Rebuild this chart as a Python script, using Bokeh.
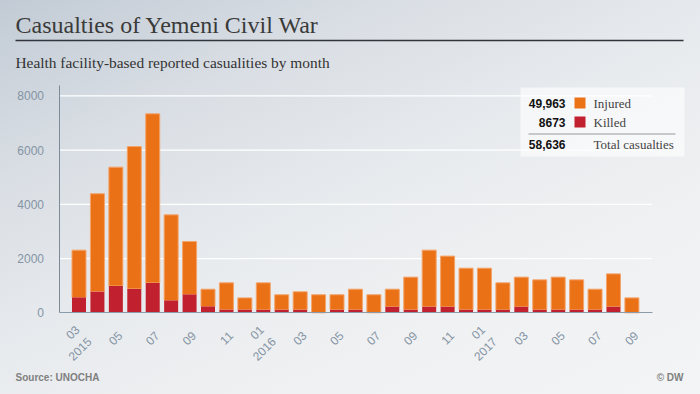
from bokeh.plotting import figure
from bokeh.models import (ColumnDataSource, Range1d, FixedTicker, Label, BoxAnnotation,
                          GlobalInlineStyleSheet)
from bokeh.embed import file_html
from bokeh.resources import INLINE
import math

# ---- data ----
months = ["2015-03", "2015-04", "2015-05", "2015-06", "2015-07", "2015-08", "2015-09",
          "2015-10", "2015-11", "2015-12", "2016-01", "2016-02", "2016-03", "2016-04",
          "2016-05", "2016-06", "2016-07", "2016-08", "2016-09", "2016-10", "2016-11",
          "2016-12", "2017-01", "2017-02", "2017-03", "2017-04", "2017-05", "2017-06",
          "2017-07", "2017-08", "2017-09"]
killed = [560, 780, 990, 880, 1100, 450, 670,
          230, 110, 110, 110, 110, 110, 0,
          110, 110, 0, 220, 110, 220, 220,
          110, 110, 110, 220, 110, 110, 110,
          110, 220, 0]
injured = [1750, 3610, 4380, 5250, 6235, 3160, 1960,
           640, 995, 440, 995, 555, 665, 665,
           555, 760, 665, 650, 1205, 2090, 1870,
           1535, 1535, 995, 1095, 1105, 1205, 1105,
           760, 1215, 550]
tick_labels = {"2015-03": "03\n2015", "2016-01": "01\n2016", "2017-01": "01\n2017"}
y_ticks = [0, 2000, 4000, 6000, 8000]
legend_numbers = ["49,963", "8673", "58,636"]
legend_names = ["Injured", "Killed", "Total casualties"]

title = "Casualties of Yemeni Civil War"
subtitle = "Health facility-based reported casualities by month"
source_txt = "Source: UNOCHA"
credit_txt = "\u00a9 DW"

ORANGE = "#EB7116"
RED = "#C1212F"
W, H = 700, 394

x = list(range(len(months)))
total = [k + i for k, i in zip(killed, injured)]
src = ColumnDataSource(dict(x=x, killed=killed, total=total, zero=[0] * len(x)))

# the plotting frame covers the whole canvas; axes are pinned with fixed_location
p = figure(width=W, height=H, output_backend="svg", toolbar_location=None,
           x_range=Range1d(-4.259, 33.722), y_range=Range1d(-3012, 11513),
           min_border_left=0, min_border_right=0, min_border_top=0, min_border_bottom=0,
           border_fill_color=None, background_fill_color=None, outline_line_color=None)
p.title.visible = False

X0, X1 = -1.031, 31.10   # extent of the value axis area
p.segment(x0=X0, x1=X1, y0=y_ticks[1:], y1=y_ticks[1:], line_color="white", line_width=1.2)

p.vbar(x="x", bottom="killed", top="total", width=0.76, source=src,
       fill_color=ORANGE, line_color="#F3A56C", line_width=1)
p.vbar(x="x", bottom="zero", top="killed", width=0.76, source=src,
       fill_color=RED, line_color=None)

p.xgrid.grid_line_color = None
p.ygrid.grid_line_color = None

# y axis
p.yaxis.fixed_location = X0
p.yaxis.bounds = (0, 8380)
p.yaxis.ticker = FixedTicker(ticks=y_ticks)
p.yaxis.axis_line_color = "#7D8B99"
p.yaxis.major_tick_line_color = None
p.yaxis.minor_tick_line_color = None
p.yaxis.major_label_text_font = "Liberation Sans"
p.yaxis.major_label_text_font_size = "12px"
p.yaxis.major_label_text_color = "#8494A4"
p.yaxis.major_label_standoff = 10

# x axis (labels nudged a little right of the bar centre, as in the original)
NUDGE = 0.25
xt_idx = [i for i, m in enumerate(months) if int(m[5:]) % 2 == 1]
xt = [round(i + NUDGE, 2) for i in xt_idx]
p.xaxis.fixed_location = 0
p.xaxis.bounds = (X0, X1)
p.xaxis.ticker = FixedTicker(ticks=xt)
p.xaxis.major_label_overrides = {t: tick_labels.get(months[i], months[i][5:])
                                 for t, i in zip(xt, xt_idx)}
p.xaxis.major_label_orientation = math.pi / 4
p.xaxis.axis_line_color = "#8C9BAA"
p.xaxis.major_tick_line_color = None
p.xaxis.minor_tick_line_color = None
p.xaxis.major_label_text_font = "Liberation Sans"
p.xaxis.major_label_text_font_size = "12px"
p.xaxis.major_label_text_color = "#8494A4"
p.xaxis.major_label_standoff = 15


def lab(text, X, Y, size, color, font, style="normal", align="left"):
    p.add_layout(Label(x=X, y=H - Y, x_units="screen", y_units="screen", text=text,
                       text_font=font, text_font_size=size, text_color=color,
                       text_font_style=style, text_align=align, text_baseline="middle",
                       level="annotation"))


def box(L, T, R, B, color, alpha=1.0):
    p.add_layout(BoxAnnotation(left=L, right=R, top=H - T, bottom=H - B,
                               left_units="screen", right_units="screen",
                               top_units="screen", bottom_units="screen",
                               fill_color=color, fill_alpha=alpha, line_color=None,
                               level="annotation"))


lab(title, 15, 24, "24px", "#3a3a3a", "Liberation Serif")
box(15, 39.2, 683, 40.8, "#30363c")
lab(subtitle, 15, 62, "15.4px", "#333333", "Liberation Serif")
lab(source_txt, 15, 377, "10px", "#808080", "Liberation Sans", "bold")
lab(credit_txt, 683, 377, "10px", "#808080", "Liberation Sans", "bold", "right")

# legend box
box(520, 87, 684, 156, "white", 0.6)
box(574, 97, 585, 108, ORANGE)
box(574, 116, 585, 127, RED)
box(528, 133, 675, 134, "#9a9a9a")
rows_y = [103, 122, 144]
for n, name, yy in zip(legend_numbers, legend_names, rows_y):
    lab(n, 565, yy, "12px", "#111111", "Liberation Sans", "bold", "right")
    lab(name, 593, yy, "13px", "#444444", "Liberation Serif")

p.stylesheets = [GlobalInlineStyleSheet(css=(
    "html{min-height:100%;background:linear-gradient(155deg,#c2cbd5 0%,#d9dee4 25%,"
    "#e8ebee 50%,#f0f1f3 75%,#f3f4f6 100%) fixed;}"
    "body{background:transparent;}"))]

open("out.html", "w").write(file_html(p, INLINE))
